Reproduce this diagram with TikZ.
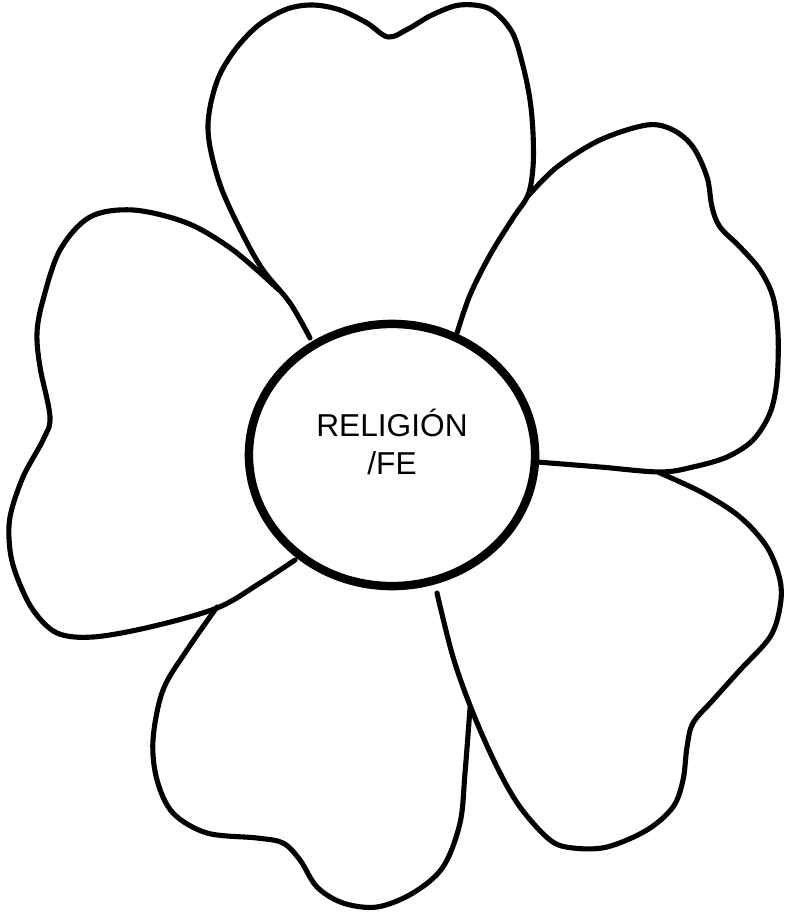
\documentclass[tikz,border=0pt]{standalone}
\usepackage{fontspec}
\setmainfont{Liberation Sans}
\usepackage{tikz}
\usetikzlibrary{shapes.geometric}

\begin{document}
\begin{tikzpicture}[
  x=0.01cm, y=-0.01cm,
  petal/.style={draw, line width=1.45pt, line join=round, line cap=round},
  hub/.style={draw, ellipse, line width=2.4pt, fill=white, inner sep=0pt, minimum width=2.86cm, minimum height=2.62cm},
  lbl/.style={align=center, inner sep=0pt, font=\fontsize{9pt}{10.8pt}\selectfont}
]
\useasboundingbox (0,0) rectangle (788,916);
% petalo superior
\draw[petal] plot[smooth, tension=0.55] coordinates {(310,338) (290,303) (263,270) (243,235) (222,190) (211,152) (208,125) (212,98) (221,72) (238,46) (260,24) (287,9) (313,5) (340,10) (367,23) (388,37) (408,29) (432,15) (460,5) (490,9) (512,32) (523,66) (530,100) (533,133) (533,167) (528,195) (513,218) (490,255) (470,295) (457,333)};
% petalo derecho arriba
\draw[petal] plot[smooth, tension=0.55] coordinates {(528,196) (557,167) (600,140) (647,125) (673,130) (693,147) (707,177) (712,207) (720,227) (740,247) (760,270) (773,297) (778,333) (777,380) (770,413) (753,440) (727,457) (693,467) (660,472) (600,467) (537,462)};
% petalo derecho abajo
\draw[petal] plot[smooth, tension=0.55] coordinates {(660,473) (703,493) (740,517) (767,547) (780,580) (780,607) (770,637) (740,670) (713,700) (693,723) (687,747) (683,780) (673,807) (647,830) (607,847) (573,848) (550,840) (520,807) (497,767) (473,713) (453,657) (437,593)};
% petalo inferior
\draw[petal] plot[smooth, tension=0.55] coordinates {(470,708) (465,773) (460,823) (443,867) (413,893) (377,907) (343,903) (317,887) (300,860) (283,843) (257,838) (207,833) (173,813) (157,780) (153,740) (163,690) (187,650) (217,607)};
% petalo izquierdo
\draw[petal] plot[smooth, tension=0.55] coordinates {(279,290) (233,250) (187,223) (133,210) (90,217) (60,250) (43,300) (37,333) (40,367) (50,417) (43,440) (23,477) (10,517) (10,550) (17,577) (33,610) (57,633) (93,637) (150,627) (217,608) (260,583) (295,560)};
% centro
\node[hub] (centro) at (392,455) {};
\node[lbl] (tema) at (392,442) {RELIGIÓN\\/FE};
\end{tikzpicture}
\end{document}
